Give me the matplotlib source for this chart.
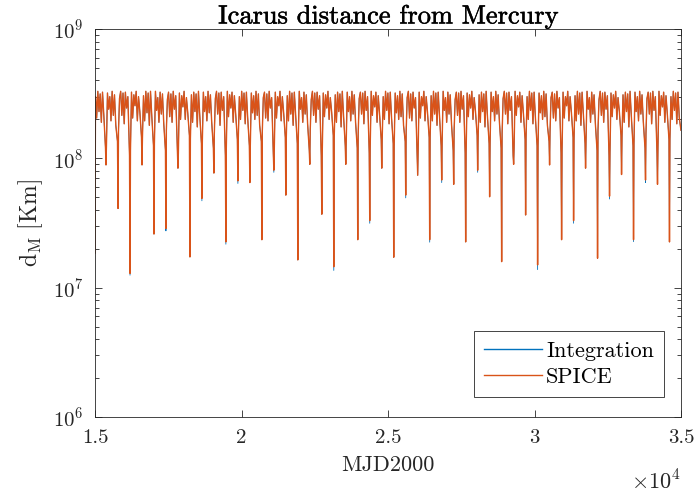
import matplotlib
matplotlib.use("Agg")
import matplotlib.pyplot as plt
import matplotlib.patheffects as pe
from matplotlib.ticker import FuncFormatter, LogLocator, NullFormatter

plt.rcParams["font.family"] = ["cmr10", "DejaVu Serif"]
plt.rcParams["mathtext.fontset"] = "cm"
plt.rcParams["axes.formatter.use_mathtext"] = True

# first sample of the record (MJD2000, km)
start_mjd = 15000
start_dist = 1.85e7

# perihelion passages of Icarus: time of each close-approach spike
dip_mjd = [15375, 15786, 16195, 16604, 17012, 17420, 17830, 18240, 18648, 19057,
           19466, 19876, 20285, 20694, 21103, 21512, 21921, 22330, 22740, 23149,
           23558, 23967, 24376, 24786, 25195, 25604, 26013, 26422, 26832, 27241,
           27650, 28059, 28468, 28878, 29287, 29696, 30105, 30514, 30924, 31333,
           31742, 32151, 32560, 32970, 33379, 33788, 34197, 34606]

# spike minima, 1e7 km
dip_spice = [8.9, 4.1, 1.29, 8.9, 2.6, 2.87, 8.4, 1.73, 4.9, 7.7,
             2.26, 6.7, 6.5, 2.35, 8.1, 5.2, 1.64, 9.0, 3.7, 1.45,
             9.0, 2.35, 3.3, 8.4, 1.72, 5.2, 7.4, 2.35, 6.8, 6.3,
             2.26, 8.1, 5.05, 1.59, 9.0, 3.65, 1.5, 8.9, 2.35, 3.3,
             8.4, 1.69, 5.1, 7.5, 2.35, 6.8, 6.3, 2.26]
dip_integration = [8.9, 4.1, 1.25, 8.9, 2.6, 2.75, 8.4, 1.73, 4.7, 7.7,
                   2.17, 6.4, 6.5, 2.35, 7.8, 5.2, 1.64, 9.0, 3.7, 1.36,
                   9.0, 2.35, 3.15, 8.4, 1.72, 4.95, 7.4, 2.25, 6.5, 6.3,
                   2.26, 7.8, 5.05, 1.59, 9.0, 3.65, 1.38, 8.9, 2.35, 3.15,
                   8.4, 1.69, 4.85, 7.5, 2.27, 6.5, 6.3, 2.26]

# days after each perihelion at which the band between spikes was read
sample_offsets = [15, 50, 90, 130, 170, 210, 250, 290, 335, 392]

# distance between spikes, 1e6 km (row k follows spike k, row 0 precedes the first)
band = [
    [135, 300, 205, 330, 230, 315, 190, 325, 215, 120],
    [125, 320, 240, 300, 195, 330, 215, 310, 180, 135],
    [160, 290, 330, 215, 320, 185, 325, 245, 300, 105],
    [115, 325, 205, 310, 255, 330, 195, 300, 230, 145],
    [145, 305, 195, 330, 225, 320, 180, 330, 210, 125],
    [130, 330, 235, 295, 190, 325, 220, 315, 185, 115],
    [165, 285, 325, 210, 315, 190, 330, 240, 305, 110],
    [110, 320, 200, 305, 250, 330, 200, 295, 225, 150],
    [140, 310, 190, 325, 230, 315, 175, 330, 215, 130],
    [135, 325, 230, 300, 195, 330, 225, 310, 190, 120],
    [155, 290, 330, 220, 320, 180, 325, 235, 300, 105],
    [120, 330, 210, 310, 245, 325, 190, 305, 220, 140],
    [145, 300, 200, 330, 235, 320, 185, 325, 205, 125],
    [125, 320, 225, 305, 200, 330, 215, 315, 180, 135],
    [160, 295, 325, 205, 315, 195, 330, 245, 295, 110],
    [115, 325, 205, 300, 255, 330, 195, 300, 225, 145],
    [140, 305, 195, 330, 220, 320, 180, 325, 215, 130],
    [135, 330, 240, 295, 190, 325, 220, 310, 185, 115],
    [165, 285, 330, 215, 320, 190, 325, 240, 305, 105],
    [110, 320, 210, 310, 245, 330, 200, 295, 230, 150],
    [145, 310, 190, 325, 230, 315, 175, 330, 210, 125],
    [130, 325, 230, 300, 195, 330, 220, 310, 190, 120],
    [155, 290, 325, 220, 320, 185, 330, 235, 300, 110],
    [120, 330, 215, 305, 250, 325, 190, 305, 220, 140],
    [140, 300, 200, 330, 235, 320, 185, 325, 205, 130],
    [125, 320, 225, 305, 200, 330, 210, 315, 180, 135],
    [160, 295, 330, 205, 315, 195, 325, 245, 295, 105],
    [115, 325, 205, 300, 255, 330, 195, 300, 225, 145],
    [145, 305, 195, 330, 220, 320, 180, 325, 215, 125],
    [135, 330, 235, 295, 190, 325, 220, 310, 185, 115],
    [165, 285, 325, 215, 320, 190, 330, 240, 305, 110],
    [110, 320, 210, 310, 245, 330, 200, 295, 230, 150],
    [140, 310, 190, 325, 230, 315, 175, 330, 210, 130],
    [130, 325, 230, 300, 195, 330, 220, 310, 190, 120],
    [155, 290, 330, 220, 320, 185, 325, 235, 300, 105],
    [120, 330, 215, 305, 250, 325, 190, 305, 220, 140],
    [145, 300, 200, 330, 235, 320, 185, 325, 205, 125],
    [125, 320, 225, 305, 200, 330, 210, 315, 180, 135],
    [160, 295, 325, 205, 315, 195, 330, 245, 295, 110],
    [115, 325, 205, 300, 255, 330, 195, 300, 225, 145],
    [140, 305, 195, 330, 220, 320, 180, 325, 215, 130],
    [135, 330, 240, 295, 190, 325, 220, 310, 185, 115],
    [165, 285, 330, 215, 320, 190, 325, 240, 305, 105],
    [110, 320, 210, 310, 245, 330, 200, 295, 230, 150],
    [145, 310, 190, 325, 230, 315, 175, 330, 210, 125],
    [130, 325, 230, 300, 195, 330, 220, 310, 190, 120],
    [155, 290, 325, 220, 320, 185, 330, 235, 300, 110],
    [120, 330, 215, 305, 250, 325, 190, 305, 220, 140],
    [140, 300, 200, 330, 235, 320, 185, 325, 205, 165],
]
prev_perihelion = 14966  # passage just before the record starts


def build_series(dip_min):
    t = [start_mjd]
    d = [start_dist]
    bases = [prev_perihelion] + dip_mjd
    for k, row in enumerate(band):
        if k > 0:
            t.append(dip_mjd[k - 1])
            d.append(dip_min[k - 1] * 1e7)
        for off, v in zip(sample_offsets, row):
            tt = bases[k] + off
            if start_mjd < tt <= 35000:
                t.append(tt)
                d.append(v * 1e6)
    return t, d


t_int, d_int = build_series(dip_integration)
t_sp, d_sp = build_series(dip_spice)

ink = "#262626"
fig = plt.figure(figsize=(6.95, 4.92), dpi=100)
ax = fig.add_axes([0.1367, 0.1524, 0.8432, 0.7886])

ax.plot(t_int, d_int, color="#0072BD", lw=0.6, label="Integration")
ax.plot(t_sp, d_sp, color="#D95319", lw=1.0, label="SPICE")

ax.set_yscale("log")
ax.set_xlim(15000, 35000)
ax.set_ylim(1e6, 1e9)
ax.set_xticks([15000, 20000, 25000, 30000, 35000])
ax.xaxis.set_major_formatter(FuncFormatter(lambda x, p: f"{x / 1e4:g}"))
ax.yaxis.set_major_locator(LogLocator(base=10, numticks=10))
ax.yaxis.set_minor_locator(LogLocator(base=10, subs=range(2, 10), numticks=20))
ax.yaxis.set_minor_formatter(NullFormatter())

ax.tick_params(which="both", direction="in", top=True, right=True,
               colors=ink, labelsize=15, width=0.6)
ax.tick_params(axis="x", pad=9)
ax.tick_params(axis="y", pad=8)
ax.tick_params(which="major", length=5)
ax.tick_params(which="minor", length=3)
for s in ax.spines.values():
    s.set_color(ink)
    s.set_linewidth(0.6)

title = ax.set_title("Icarus distance from Mercury", fontsize=19, color="black", pad=4)
title.set_path_effects([pe.withStroke(linewidth=0.35, foreground="black")])
ax.set_xlabel("MJD2000", fontsize=16, color=ink, labelpad=6)
ax.set_ylabel(r"$\mathrm{d_M\ [Km]}$", fontsize=17, color=ink, labelpad=6)
ax.text(1.0, -0.135, r"$\times10^4$", transform=ax.transAxes, ha="right", va="top",
        fontsize=16, color=ink)

leg = ax.legend(loc="lower right", bbox_to_anchor=(0.971, 0.0515), borderaxespad=0,
                fancybox=False, fontsize=16, handlelength=2.6, handletextpad=0.2,
                borderpad=0.45, labelspacing=0.3, framealpha=1)
leg.get_frame().set_edgecolor(ink)
leg.get_frame().set_linewidth(0.6)
for line in leg.get_lines():
    line.set_linewidth(1.0)

fig.savefig("out.png", dpi=100)
